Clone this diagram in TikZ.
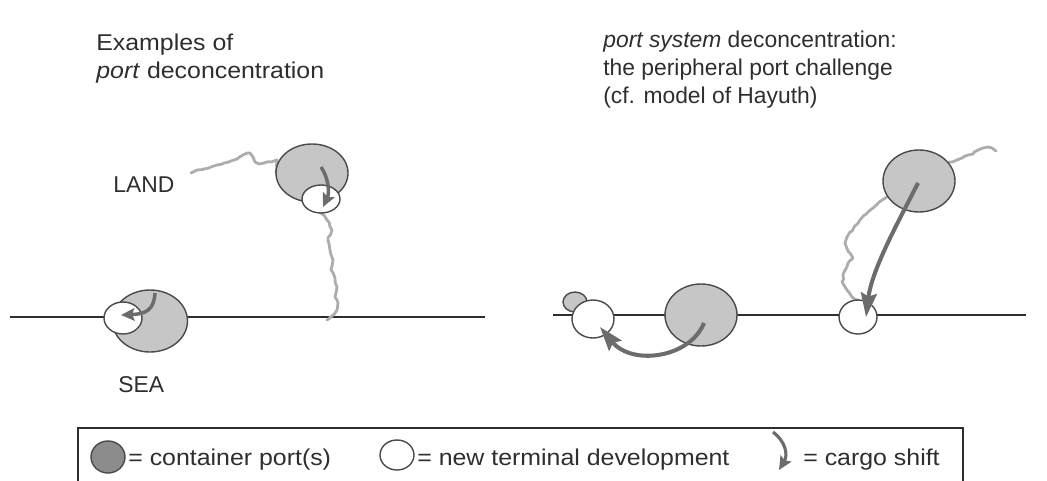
\documentclass[tikz,border=0pt]{standalone}
\usepackage{fontspec}
\setmainfont{Liberation Sans}[FakeStretch=1.09]
\newfontfamily\headfont{Liberation Sans}
\newfontfamily\placefont{Liberation Sans}
\usetikzlibrary{arrows.meta,shapes.geometric,decorations.pathmorphing,backgrounds}

\definecolor{ink}{HTML}{2E2E2E}
\definecolor{portgrey}{HTML}{C6C6C6}
\definecolor{legendgrey}{HTML}{8C8C8C}
\definecolor{rim}{HTML}{4A4A4A}
\definecolor{shiftgrey}{HTML}{6C6C6C}
\definecolor{landgrey}{HTML}{ADADAD}

\begin{document}
\begin{tikzpicture}[x=0.02cm, y={(0cm,-0.02cm)},
  txt/.style={inner sep=0pt, anchor=base west, text=ink, font=\fontsize{13}{15}\selectfont},
  headtxt/.style={txt, font=\headfont\fontsize{13}{15}\selectfont},
  placetxt/.style={txt, font=\placefont\fontsize{13}{15}\selectfont},
  port/.style 2 args={ellipse, draw=rim, line width=0.8pt, fill=portgrey,
    inner sep=0pt, outer sep=0pt, minimum width=#1*0.02cm, minimum height=#2*0.02cm},
  terminal/.style 2 args={port={#1}{#2}, fill=white},
  coast/.style={draw=ink, line width=1.1pt},
  landline/.style={draw=landgrey, line width=1.6pt, line join=round, line cap=round,
    decorate, decoration={random steps, segment length=2.4pt, amplitude=0.55pt}},
  bigshift/.style={draw=shiftgrey, line width=2.3pt,
    -{Stealth[length=0.48cm, width=0.32cm, inset=0.07cm]}},
  smallshift/.style={draw=shiftgrey, line width=2pt,
    -{Stealth[length=0.27cm, width=0.25cm, inset=0.05cm]}},
  legendbox/.style={draw=ink, line width=0.7pt}]

\useasboundingbox (0,0) rectangle (1047,480);

% ---------- headings ----------
\node[txt] (headL1) at (96,50) {Examples of};
\node[txt] (headL2) at (96,78) {\textit{port} deconcentration};
\node[headtxt] (headR1) at (603,47) {\textit{port system} deconcentration:};
\node[headtxt] (headR2) at (603,75) {the peripheral port challenge};
\node[headtxt] (headR3) at (603,103) {(cf. model of Hayuth)};

\node[placetxt] (land) at (113,192) {LAND};
\node[placetxt] (sea) at (118,392) {SEA};

% ---------- ports, left panel ----------
\node[port={75}{62}] (pA) at (150,321) {};
\node[terminal={38}{32}] (tA) at (123,318) {};
\node[port={72}{58}] (pB) at (312,173) {};
\node[terminal={38}{28}] (tB) at (321,199) {};

% ---------- ports, right panel ----------
\node[port={24}{20}] (pC0) at (575,302) {};
\node[terminal={42}{38}] (tC) at (593,319) {};
\node[port={72}{62}] (pC) at (701,315) {};
\node[terminal={38}{34}] (tD) at (858,317) {};
\node[port={72}{62}] (pD) at (919,181) {};

% ---------- coastlines and land boundaries (behind the ports) ----------
\coordinate (seaL1) at (10,317);
\coordinate (seaL2) at (485,317);
\coordinate (seaR1) at (553,315);
\coordinate (seaR2) at (1026,315);
\coordinate (landA) at (191,173);
\coordinate (landB) at (327,320);
\coordinate (landC) at (996,151);
\begin{scope}[on background layer]
  \draw[coast] (seaL1) -- (seaL2);
  \draw[coast] (seaR1) -- (seaR2);
  \pgfmathsetseed{11}
  \draw[landline] (landA) -- (197,170) -- (204,169) -- (211,167) -- (217,165)
    -- (224,163) -- (231,161) -- (237,159) -- (243,155) -- (250,153) -- (253,157)
    -- (255,162) -- (259,164) -- (264,163) -- (271,162) -- (277,160) -- (pB.west);
  \draw[landline] (tB.south) -- (329,222) -- (332,230) -- (328,240) -- (330,250)
    -- (333,260) -- (331,270) -- (335,278) -- (337,287) -- (335,297) -- (338,303)
    -- (337,310) -- (333,315) -- (landB);
  \draw[landline] (landC) -- (992,148) -- (988,147) -- (983,148) -- (978,150)
    -- (973,154) -- (968,155) -- (962,158) -- (957,160) -- (950,162)
    -- (887,197) -- (873,208) -- (860,220) -- (847,237) -- (845,243) -- (850,253)
    -- (853,258) -- (848,263) -- (845,270) -- (842,282) -- (847,290) -- (852,297)
    -- (tD.north);
\end{scope}

% ---------- cargo shifts ----------
\coordinate (sA) at (155,293);
\coordinate (eA) at (121,315);
\coordinate (sB) at (321,167);
\coordinate (eB) at (323,207);
\coordinate (sC) at (704,323);
\coordinate (eC) at (600,327);
\coordinate (sD) at (918,183);
\coordinate (eD) at (866,317);
\draw[smallshift] (sA) .. controls (154,310) and (146,314) .. (eA);
\draw[smallshift] (sB) .. controls (328,177) and (330,192) .. (eB);
\draw[bigshift] (sC) .. controls (690,358) and (632,366) .. (eC);
\draw[bigshift] (sD) .. controls (902,215) and (872,268) .. (eD);

% ---------- legend ----------
\coordinate (boxNW) at (78,428);
\coordinate (boxSE) at (963,492);
\draw[legendbox] (boxNW) rectangle (boxSE);
\node[port={34}{32}, fill=legendgrey] (keyPort) at (108,457) {};
\node[txt] (keyPortTxt) at (128,465) {= container port(s)};
\node[terminal={34}{30}] (keyTerm) at (397,455) {};
\node[txt] (keyTermTxt) at (417,465) {= new terminal development};
\coordinate (keyS) at (773,432);
\coordinate (keyE) at (779,470);
\draw[smallshift, line width=1.8pt] (keyS) .. controls (786,442) and (788,455) .. (keyE);
\node[txt] (keyShiftTxt) at (803,465) {= cargo shift};
\end{tikzpicture}
\end{document}
